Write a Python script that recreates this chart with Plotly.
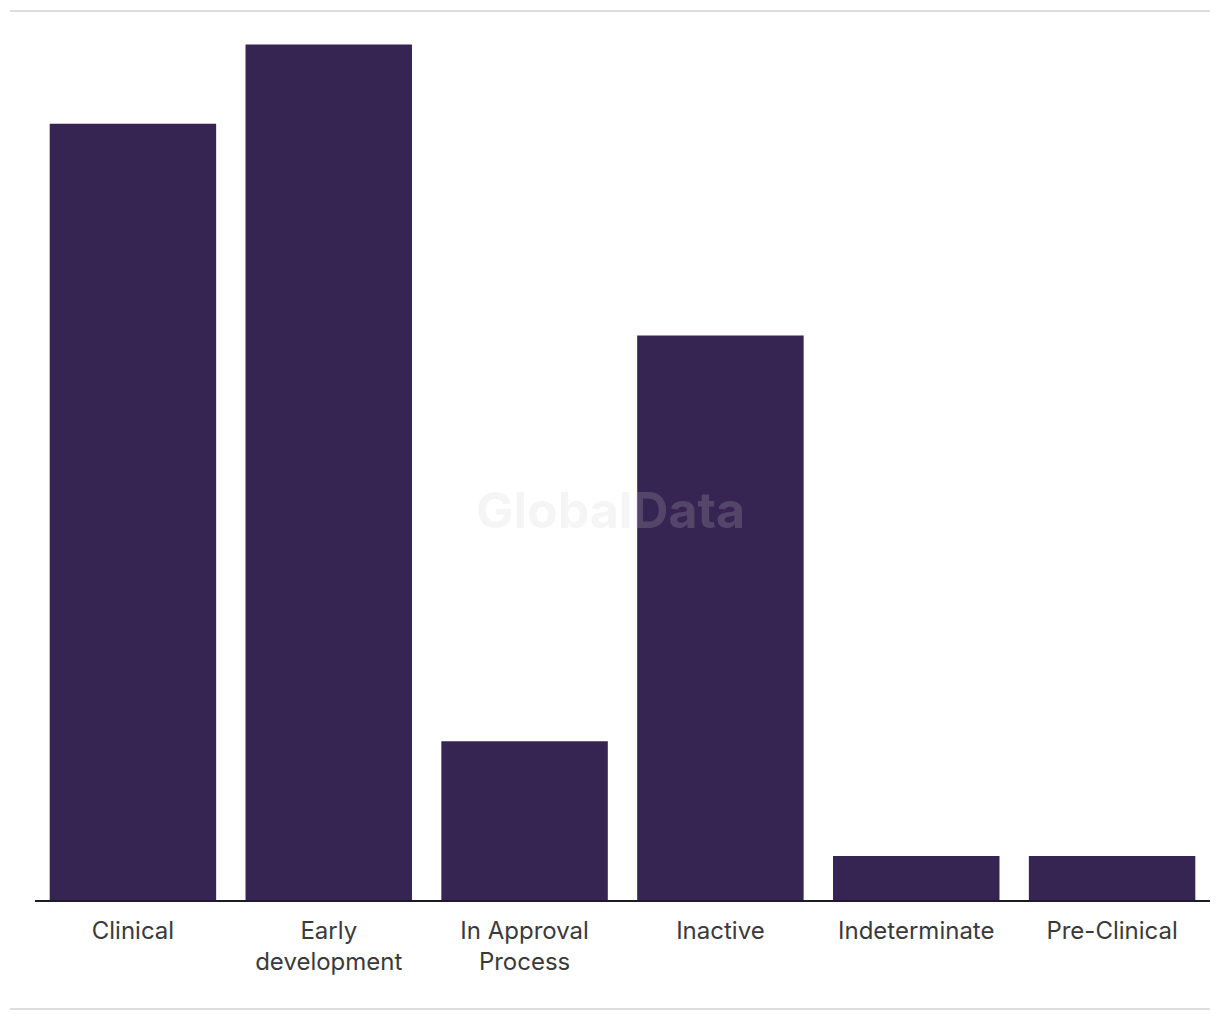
import plotly.graph_objects as go

categories = ["Clinical", "Early<br>development", "In Approval<br>Process", "Inactive", "Indeterminate", "Pre-Clinical"]
values = [88, 97, 18, 64, 5, 5]

BAR = "#362452"
W, H = 1220, 1020
ML, MR, MT, MB = 35, 10, 18, 120
PW, PH = W - ML - MR, H - MT - MB

def px(x):
    return (x - ML) / PW

def py(y):
    return (H - MB - y) / PH

fig = go.Figure(go.Bar(x=categories, y=values, marker=dict(color=BAR, line=dict(width=0)), width=0.85,
                       hoverinfo="skip"))

fig.update_layout(
    width=W, height=H,
    margin=dict(l=ML, r=MR, t=MT, b=MB, autoexpand=False),
    plot_bgcolor="white", paper_bgcolor="white",
    showlegend=False,
    font=dict(family="Inter", size=24, color="#3a3a3a"),
    xaxis=dict(showline=True, linecolor="#1c1a2b", linewidth=2, ticks="", showgrid=False,
               tickfont=dict(size=24, color="#3a3a3a"), ticklabelstandoff=8, fixedrange=True),
    yaxis=dict(range=[0, 100], visible=False, showgrid=False, fixedrange=True),
    bargap=0.15,
)

fig.add_shape(type="line", xref="paper", yref="paper", x0=px(10), x1=px(1210), y0=py(11), y1=py(11),
              line=dict(color="#dddddd", width=2))
fig.add_shape(type="line", xref="paper", yref="paper", x0=px(10), x1=px(1210), y0=py(1009), y1=py(1009),
              line=dict(color="#dddddd", width=2))

fig.add_annotation(text="<b>GlobalData</b>", xref="paper", yref="paper", x=px(610), y=py(510),
                   showarrow=False, font=dict(family="Inter", size=50, color="rgba(205,205,205,0.2)"))

fig.write_html("out.html", config={"displayModeBar": False},
               post_script="document.body.style.margin='0';document.body.style.padding='0';")
